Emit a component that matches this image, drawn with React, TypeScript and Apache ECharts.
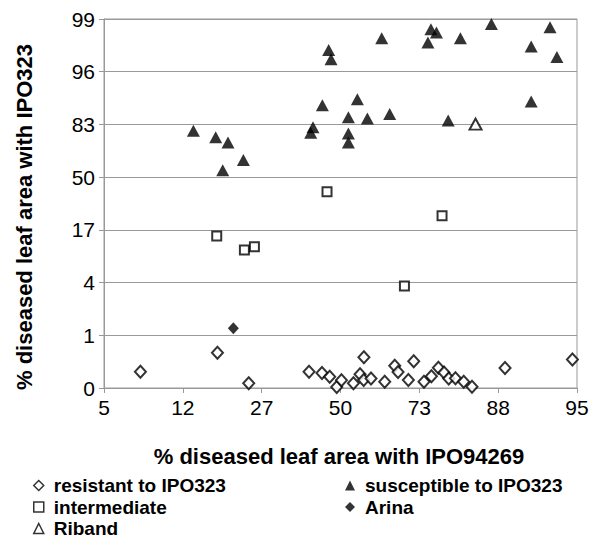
import React, { useEffect, useRef } from "react";
import * as echarts from "echarts";

// Axis tick labels (probit-like scale: equal spacing per label)
const xTickLabels = ["5", "12", "27", "50", "73", "88", "95"];
const yTickLabels = ["0", "1", "4", "17", "50", "83", "96", "99"];

// Values expressed in axis units (tick index positions)
const resistant: [number, number][] = [
  [0.462, 0.309], [1.439, 0.67], [1.836, 0.089], [2.601, 0.309], [2.765, 0.285],
  [2.863, 0.214], [2.952, 0.019], [3.012, 0.146], [3.164, 0.089], [3.248, 0.26],
  [3.297, 0.583], [3.294, 0.152], [3.387, 0.18], [3.561, 0.118], [3.688, 0.421],
  [3.73, 0.304], [3.861, 0.152], [3.929, 0.509], [4.059, 0.118], [4.153, 0.222],
  [4.242, 0.385], [4.313, 0.294], [4.373, 0.18], [4.458, 0.184], [4.563, 0.118],
  [4.668, 0.023], [5.087, 0.38], [5.942, 0.541],
];
const susceptible: [number, number][] = [
  [1.134, 4.88], [1.417, 4.757], [1.573, 4.658], [1.768, 4.326], [1.506, 4.131],
  [2.651, 4.947], [2.622, 4.844], [2.77, 5.364], [3.214, 5.478], [3.1, 5.137],
  [3.1, 4.829], [3.1, 4.655], [3.341, 5.114], [3.624, 5.199], [4.366, 5.076],
  [5.419, 5.436], [2.85, 6.414], [2.88, 6.237], [3.523, 6.636], [4.147, 6.806],
  [4.217, 6.746], [4.109, 6.552], [4.521, 6.636], [4.914, 6.907], [5.419, 6.48],
  [5.658, 6.844], [5.745, 6.281],
];
const intermediate: [number, number][] = [
  [1.43, 2.884], [1.781, 2.619], [1.908, 2.681], [2.829, 3.725], [4.288, 3.269], [3.811, 1.935],
];
const arina: [number, number][] = [[1.641, 1.133]];
const riband: [number, number][] = [[4.713, 5.006]];

const FONT = '"Liberation Sans", Arial, sans-serif';

export default function App() {
  const ref = useRef<HTMLDivElement>(null);
  useEffect(() => {
    if (!ref.current) return;
    const chart = echarts.init(ref.current, undefined, { renderer: "svg" });
    const grey = "#999999";
    const hollow = { color: "#ffffff", borderColor: "#000000", borderWidth: 2 };
    const legendFont = 19;
    const legendText = {
      fontFamily: FONT, fontSize: legendFont, fontWeight: "bold" as const, color: "#000",
      lineHeight: legendFont, padding: [0, 0, 0, 5],
    };
    const hollowIcon = { color: "#fff", borderColor: "#000", borderWidth: 1.5 };
    const mkLegend = (name: string, icon: string, left: number, rowCenter: number, itemStyle: any) => ({
      orient: "vertical", left, top: rowCenter - legendFont / 2, itemWidth: 10, itemHeight: 10, padding: 0,
      textStyle: legendText, data: [{ name, icon, itemStyle }],
    });
    chart.setOption({
      animation: false,
      textStyle: { fontFamily: FONT },
      grid: {
        left: 104, right: 16, top: 19, bottom: 152,
        show: true, borderColor: grey, borderWidth: 1, backgroundColor: "transparent",
      },
      xAxis: {
        type: "value", min: 0, max: 6, interval: 1,
        axisLine: { show: true, lineStyle: { color: grey } },
        axisTick: { show: true, length: 5, lineStyle: { color: grey } },
        splitLine: { show: false },
        axisLabel: {
          margin: 9, fontSize: 21, color: "#000", fontFamily: FONT,
          formatter: (v: number) => xTickLabels[Math.round(v)] ?? "",
        },
      },
      yAxis: {
        type: "value", min: 0, max: 7, interval: 1,
        axisLine: { show: true, lineStyle: { color: grey } },
        axisTick: { show: true, length: 5, lineStyle: { color: grey } },
        splitLine: { show: true, lineStyle: { color: grey } },
        axisLabel: {
          margin: 9, fontSize: 21, color: "#000", fontFamily: FONT,
          formatter: (v: number) => yTickLabels[Math.round(v)] ?? "",
        },
      },
      legend: [
        mkLegend("resistant to IPO323", "diamond", 33, 485.5, hollowIcon),
        mkLegend("intermediate", "rect", 33, 507, hollowIcon),
        mkLegend("Riband", "triangle", 33, 528.5, hollowIcon),
        mkLegend("susceptible to IPO323", "triangle", 345, 485.5, { color: "#000" }),
        mkLegend("Arina", "diamond", 345, 507, { color: "#000" }),
      ],
      graphic: [
        {
          type: "text", x: 339, y: 456,
          style: {
            text: "% diseased leaf area with IPO94269", fontFamily: FONT, fontSize: 22, fontWeight: "bold",
            fill: "#000", align: "center", verticalAlign: "middle",
          },
        },
        {
          type: "text", x: 24, y: 217, rotation: Math.PI / 2,
          style: {
            text: "% diseased leaf area with IPO323", fontFamily: FONT, fontSize: 22, fontWeight: "bold",
            fill: "#000", align: "center", verticalAlign: "middle",
          },
        },
      ],
      series: [
        { name: "resistant to IPO323", type: "scatter", data: resistant, symbol: "diamond", symbolSize: [11, 12], itemStyle: hollow },
        { name: "intermediate", type: "scatter", data: intermediate, symbol: "rect", symbolSize: 9, itemStyle: hollow },
        { name: "susceptible to IPO323", type: "scatter", data: susceptible, symbol: "triangle", symbolSize: [13, 12], itemStyle: { color: "#000" } },
        { name: "Arina", type: "scatter", data: arina, symbol: "diamond", symbolSize: [11, 12], itemStyle: { color: "#000" } },
        { name: "Riband", type: "scatter", data: riband, symbol: "triangle", symbolSize: [12, 11], itemStyle: hollow },
      ],
    });
    return () => chart.dispose();
  }, []);
  return <div ref={ref} style={{ position: "absolute", left: 0, top: 0, width: 593, height: 540 }} />;
}
